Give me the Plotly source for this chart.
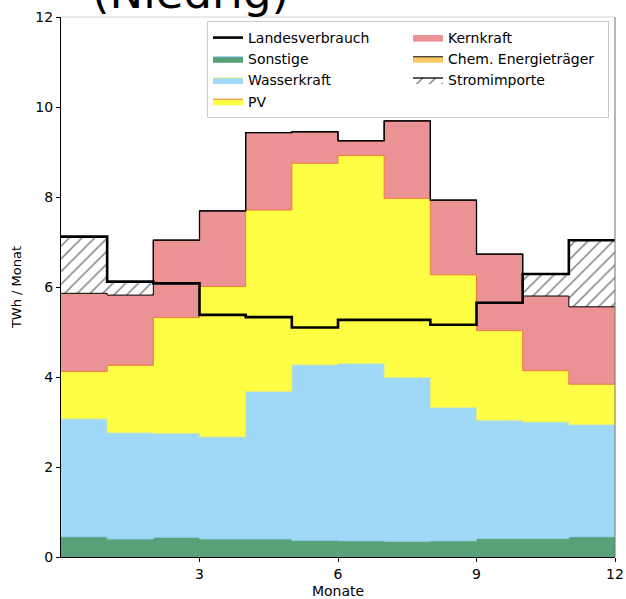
import plotly.graph_objects as go

# ---- data (TWh per month) ----
months = list(range(1, 13))
sonstige = [0.45, 0.40, 0.44, 0.40, 0.40, 0.37, 0.36, 0.35, 0.36, 0.41, 0.41, 0.45]
wasserkraft = [2.62, 2.36, 2.31, 2.27, 3.28, 3.90, 3.94, 3.64, 2.96, 2.63, 2.59, 2.49]
pv = [1.05, 1.50, 2.57, 3.34, 4.03, 4.48, 4.62, 3.98, 2.95, 1.99, 1.14, 0.90]
kernkraft = [1.74, 1.56, 1.72, 1.68, 1.72, 0.70, 0.33, 1.72, 1.66, 1.70, 1.66, 1.72]
chem = [0.0] * 12
stromimporte = [1.26, 0.30, 0.0, 0.0, 0.0, 0.0, 0.0, 0.0, 0.0, 0.0, 0.49, 1.48]
landesverbrauch = [7.12, 6.12, 6.08, 5.38, 5.33, 5.10, 5.27, 5.27, 5.16, 5.65, 6.29, 7.04]
x_ticks = [3, 6, 9, 12]
y_ticks = [0, 2, 4, 6, 8, 10, 12]

# step x: month edges 0..12, values repeated at the end for post-steps
x_step = [m - 1 for m in months] + [months[-1]]


def step(v):
    return list(v) + [v[-1]]


FONT = "DejaVu Sans"
fig = go.Figure()

layers = [
    ("Sonstige", sonstige, "#57a278", "#8ccbe8", 3),
    ("Wasserkraft", wasserkraft, "#a0d8f8", "#d8ec8a", 5),
    ("PV", pv, "#fefe44", "#f27a3c", 7),
    ("Kernkraft", kernkraft, "#ea9294", "#ea9294", 2),
    ("Chem. Energieträger", chem, "#ffc966", "#000000", 4),
]
for name, vals, fc, lc, rank in layers:
    fig.add_trace(go.Scatter(
        x=x_step, y=step(vals), name=name, stackgroup="prod",
        mode="lines", line=dict(shape="hv", color=lc, width=1),
        fillcolor=fc, legendrank=rank,
    ))

fig.add_trace(go.Scatter(
    x=x_step, y=step(stromimporte), name="Stromimporte", stackgroup="prod",
    mode="lines", line=dict(shape="hv", color="#000000", width=1.3),
    fillcolor="white",
    fillpattern=dict(shape="/", fgcolor="#000000", bgcolor="white",
                     size=9, solidity=0.17),
    legendrank=6,
))

fig.add_trace(go.Scatter(
    x=x_step, y=step(landesverbrauch), name="Landesverbrauch",
    mode="lines", line=dict(shape="hv", color="#000000", width=2.6),
    legendrank=1,
))

# light frame on top / right
fig.add_shape(type="line", xref="paper", yref="paper", x0=0, x1=1, y0=1, y1=1,
              line=dict(color="#d4d4d4", width=1))
fig.add_shape(type="line", xref="paper", yref="paper", x0=1, x1=1, y0=0, y1=1,
              line=dict(color="#707070", width=1))

fig.add_annotation(text="(Niedrig)", xref="paper", yref="paper",
                   x=(190 - 61) / 554, y=1 - 4 / 540,
                   xanchor="center", yanchor="bottom", showarrow=False,
                   font=dict(family=FONT, size=45, color="#000000"))

fig.update_layout(
    width=626, height=599,
    margin=dict(l=61, r=11, t=17, b=42, autoexpand=False),
    plot_bgcolor="white", paper_bgcolor="white",
    font=dict(family=FONT, size=14, color="#000000"),
    showlegend=True,
    legend=dict(
        orientation="h", x=(207 - 61) / 554, y=1 - (21 - 17) / 540,
        xanchor="left", yanchor="top", entrywidth=155,
        bgcolor="rgba(255,255,255,0.85)", bordercolor="#cccccc", borderwidth=1,
        font=dict(family=FONT, size=14), traceorder="normal",
        tracegroupgap=0,
    ),
    xaxis=dict(
        range=[0, 12], tickvals=x_ticks, ticks="outside", ticklen=4,
        tickcolor="#000000", showline=True, linecolor="#000000", linewidth=1,
        showgrid=False, zeroline=False, automargin=False,
        title=dict(text="Monate", font=dict(size=14), standoff=7),
        tickfont=dict(size=14),
    ),
    yaxis=dict(
        range=[0, 12], tickvals=y_ticks, ticks="outside", ticklen=4,
        tickcolor="#000000", showline=True, linecolor="#000000", linewidth=1,
        showgrid=False, zeroline=False, automargin=False,
        title=dict(text="TWh / Monat", font=dict(size=13), standoff=10),
        tickfont=dict(size=14),
    ),
)

fig.write_html("out.html", config={"displayModeBar": False},
               post_script="document.body.style.margin='0';document.body.style.padding='0';")
